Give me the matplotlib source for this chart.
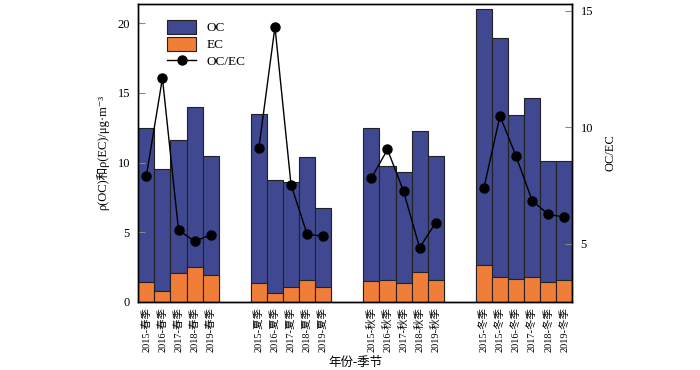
import numpy as np
import matplotlib
matplotlib.use('Agg')
import matplotlib.pyplot as plt
from matplotlib.patches import Patch
from matplotlib.lines import Line2D

plt.rcParams['font.family'] = ['Liberation Serif', 'Noto Sans CJK SC', 'DejaVu Serif']

# data
labels = ['2015-春季', '2016-春季', '2017-春季', '2018-春季', '2019-春季',
          '2015-夏季', '2016-夏季', '2017-夏季', '2018-夏季', '2019-夏季',
          '2015-秋季', '2016-秋季', '2017-秋季', '2018-秋季', '2019-秋季',
          '2015-冬季', '2015-冬季', '2016-冬季', '2017-冬季', '2018-冬季', '2019-冬季']
positions = [0, 1, 2, 3, 4, 7, 8, 9, 10, 11, 14, 15, 16, 17, 18, 21, 22, 23, 24, 25, 26]
oc = [12.5, 9.53, 11.59, 13.98, 10.49,
      13.45, 8.75, 8.58, 10.39, 6.76,
      12.5, 9.75, 9.34, 12.24, 10.47,
      21.0, 18.92, 13.38, 14.6, 10.08, 10.13]
ec = [1.46, 0.81, 2.05, 2.49, 1.96,
      1.36, 0.62, 1.1, 1.58, 1.1,
      1.5, 1.58, 1.34, 2.15, 1.56,
      2.65, 1.82, 1.65, 1.82, 1.46, 1.56]
ratio = [7.91, 12.1, 5.59, 5.1, 5.38,
         9.1, 14.3, 7.53, 5.41, 5.32,
         7.81, 9.04, 7.25, 4.83, 5.9,
         7.39, 10.48, 8.75, 6.85, 6.26, 6.14]
groups = [(0, 5), (5, 10), (10, 15), (15, 21)]

oc_color = '#3f4890'
ec_color = '#f07e38'

fig = plt.figure(figsize=(7, 3.7), dpi=100)
ax = fig.add_axes([0.1976, 0.1838, 0.62, 0.8067])

ax.bar(positions, oc, width=1.0, color=oc_color, edgecolor='#222222', linewidth=0.8)
ax.bar(positions, ec, width=1.0, color=ec_color, edgecolor='#222222', linewidth=0.8)
ax.set_xlim(-0.5, 26.5)
ax.set_ylim(0, 21.4)
ax.set_yticks([0, 5, 10, 15, 20])
ax.set_xticks(positions)
ax.set_xticklabels(labels, rotation=90, fontsize=7.5)
ax.tick_params(axis='x', length=0, pad=4)
ax.tick_params(axis='y', direction='in', length=5, color='#888888', labelsize=9, pad=6)
ax.set_xlabel('年份-季节', fontsize=9, labelpad=3)
ax.set_ylabel('ρ(OC)和ρ(EC)/μg·m⁻³', fontsize=9, labelpad=6)

ax2 = ax.twinx()
for a, b in groups:
    ax2.plot(positions[a:b], ratio[a:b], color='black', linewidth=1.0,
             marker='o', markersize=6.5)
ax2.set_ylim(2.5, 15.3)
ax2.set_yticks([5, 10, 15])
ax2.tick_params(axis='y', direction='in', length=5, color='#888888', labelsize=9, pad=6)
ax2.set_ylabel('OC/EC', fontsize=9, labelpad=8)

for a_ in (ax, ax2):
    for s in a_.spines.values():
        s.set_linewidth(1.0)

handles = [Patch(facecolor=oc_color, edgecolor='#222222', linewidth=0.8),
           Patch(facecolor=ec_color, edgecolor='#222222', linewidth=0.8),
           Line2D([], [], color='black', marker='o', markersize=6.5, linewidth=1.0)]
ax.legend(handles, ['OC', 'EC', 'OC/EC'], loc='upper left', bbox_to_anchor=(0.045, 0.975),
          frameon=False, fontsize=9.5, handlelength=2.2, handleheight=1.2,
          labelspacing=0.2, borderaxespad=0.3)

fig.savefig('out.png', dpi=100)
